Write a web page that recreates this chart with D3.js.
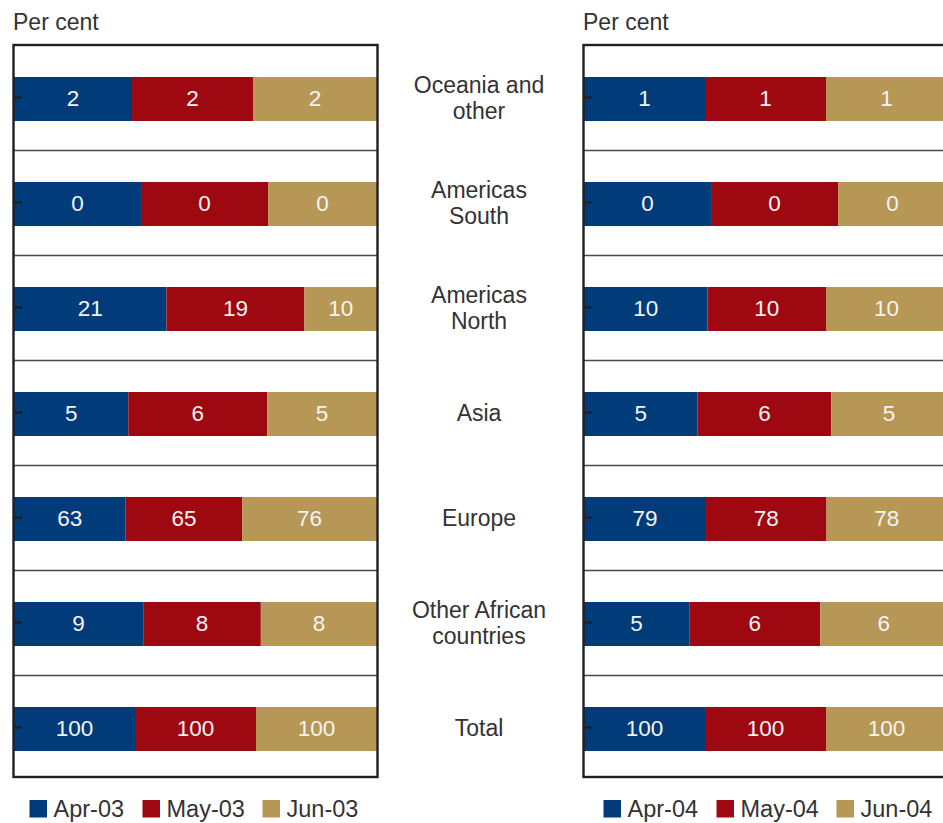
<!DOCTYPE html>
<html>
<head>
<meta charset="utf-8">
<script src="https://cdnjs.cloudflare.com/ajax/libs/d3/7.8.5/d3.min.js"></script>
<style>
  html, body { margin: 0; padding: 0; background: #ffffff; }
  svg { display: block; font-family: "Liberation Sans", Arial, sans-serif; }
</style>
</head>
<body>
<svg id="chart" width="943" height="823"></svg>
<script>
// ---------------- DATA ----------------
const categories = ["Oceania and other", "Americas South", "Americas North", "Asia", "Europe", "Other African countries", "Total"];
const categoryLines = [["Oceania and", "other"], ["Americas", "South"], ["Americas", "North"], ["Asia"], ["Europe"], ["Other African", "countries"], ["Total"]];

const series2003 = ["Apr-03", "May-03", "Jun-03"];
const apr03 = [1.95, 0.35, 21, 5.1, 62.7, 8.9, 100];
const may03 = [2.0, 0.35, 19, 6.2, 65.4, 8.1, 100];
const jun03 = [2.05, 0.3, 10, 4.9, 75.7, 8.0, 100];

const series2004 = ["Apr-04", "May-04", "Jun-04"];
const apr04 = [1.0, 0.35, 10.2, 5.1, 79, 4.9, 100];
const may04 = [1.0, 0.35, 9.8, 6.0, 78, 6.1, 100];
const jun04 = [1.0, 0.3, 10, 5.2, 78, 5.9, 100];

const axisTitle = "Per cent";
const colors = ["#023b79", "#9e0810", "#b79755"];

// ---------------- LAYOUT ----------------
const svg = d3.select("#chart");
const panelW = 363;
const frameTop = 45, frameBottom = 777;
const y = d3.scaleBand().domain(categories).range([46.5, 781.5]).padding(0);
const barH = 44;
const fmt = d3.format(".0f");

function drawPanel(x0, seriesNames, seriesValues, legendX) {
  const g = svg.append("g");
  const rows = categories.map((c, i) => {
    const r = { cat: c };
    seriesNames.forEach((s, k) => r[s] = seriesValues[k][i]);
    return r;
  });
  const stack = d3.stack().keys(seriesNames).offset(d3.stackOffsetExpand);
  const layers = stack(rows);
  const x = d3.scaleLinear().domain([0, 1]).range([x0, x0 + panelW]);
  const color = d3.scaleOrdinal().domain(seriesNames).range(colors);

  // row separators
  g.selectAll("line.sep").data(categories.slice(0, -1)).join("line")
    .attr("x1", x0).attr("x2", x0 + panelW)
    .attr("y1", d => y(d) + y.bandwidth() - 1).attr("y2", d => y(d) + y.bandwidth() - 1)
    .attr("stroke", "#4a4a4a").attr("stroke-width", 1.6);

  // bars
  const lg = g.selectAll("g.layer").data(layers).join("g")
    .attr("fill", d => color(d.key));
  lg.selectAll("rect").data(d => d).join("rect")
    .attr("x", d => x(d[0]))
    .attr("width", d => x(d[1]) - x(d[0]))
    .attr("y", d => y(d.data.cat) + y.bandwidth() / 2 - barH / 2)
    .attr("height", barH);

  // value labels
  layers.forEach(layer => {
    g.selectAll(null).data(layer).join("text")
      .attr("x", d => (x(d[0]) + x(d[1])) / 2)
      .attr("y", d => y(d.data.cat) + y.bandwidth() / 2 + 7)
      .attr("text-anchor", "middle")
      .attr("font-size", 22.5)
      .attr("fill", "#f4f4f4")
      .text(d => fmt(d.data[layer.key]));
  });

  // ticks (axis)
  const axis = d3.axisRight(y).tickSize(8).tickFormat("");
  const ag = g.append("g").attr("transform", `translate(${x0},-1.5)`).call(axis);
  ag.select(".domain").remove();
  ag.selectAll(".tick line").attr("stroke", "#231f20").attr("stroke-width", 2.2);

  // frame
  g.append("rect")
    .attr("x", x0 - 0.5).attr("y", frameTop)
    .attr("width", panelW + 1).attr("height", frameBottom - frameTop)
    .attr("fill", "none").attr("stroke", "#231f20").attr("stroke-width", 2.4);

  // axis title
  g.append("text").attr("x", x0 - 1).attr("y", 30)
    .attr("font-size", 23).attr("fill", "#333333").text(axisTitle);

  // legend
  const legendSteps = [0, 113, 233];
  const leg = g.selectAll("g.leg").data(seriesNames).join("g")
    .attr("transform", (d, i) => `translate(${legendX + legendSteps[i]},800)`);
  leg.append("rect").attr("width", 17.5).attr("height", 17.5).attr("fill", d => color(d));
  leg.append("text").attr("x", 24).attr("y", 17.3)
    .attr("font-size", 23.5).attr("fill", "#333333").text(d => d);
}

drawPanel(14, series2003, [apr03, may03, jun03], 29.5);
drawPanel(584, series2004, [apr04, may04, jun04], 603.5);

// category labels in the middle
const catG = svg.append("g");
categories.forEach((c, i) => {
  const lines = categoryLines[i];
  const cy = y(c) + y.bandwidth() / 2 - 1.5;
  const lh = 26;
  const t = catG.append("text")
    .attr("text-anchor", "middle")
    .attr("font-size", 23)
    .attr("fill", "#333333");
  lines.forEach((ln, j) => {
    t.append("tspan")
      .attr("x", 479)
      .attr("y", cy + 8.3 + (j - (lines.length - 1) / 2) * lh)
      .text(ln);
  });
});
</script>
</body>
</html>
